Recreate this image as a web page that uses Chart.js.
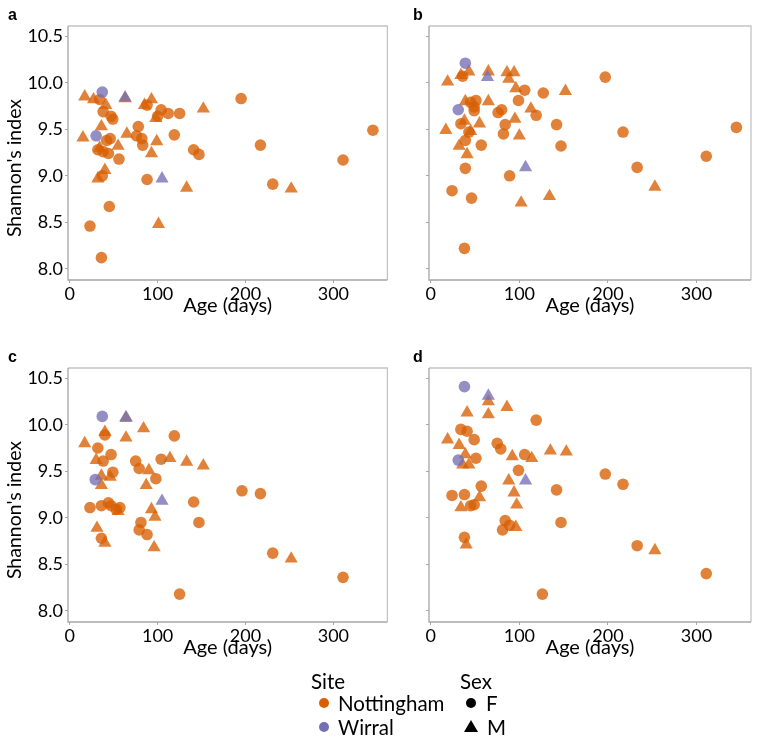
<!DOCTYPE html>
<html><head><meta charset="utf-8">
<script src="https://cdn.jsdelivr.net/npm/chart.js@4/dist/chart.umd.min.js"></script>
<style>
body{margin:0;background:#fff;width:764px;height:740px;position:relative;overflow:hidden;font-family:Lato,"Open Sans",sans-serif;color:#000}
canvas{position:absolute}
.letter{position:absolute;font:bold 16px "Liberation Sans",Arial,sans-serif;line-height:16px}
.ytitle{position:absolute;width:200px;height:24px;line-height:24px;text-align:center;font-size:19.5px;transform:rotate(-90deg);transform-origin:50% 50%}
.lg{position:absolute;font-size:20.5px;line-height:24px;white-space:nowrap}
.dot{position:absolute;width:10px;height:10px;border-radius:50%}
</style></head>
<body>
<canvas id="ca" width="395" height="330" style="left:0;top:0"></canvas>
<canvas id="cb" width="369" height="330" style="left:395px;top:0"></canvas>
<canvas id="cc" width="395" height="330" style="left:0;top:342px"></canvas>
<canvas id="cd" width="369" height="330" style="left:395px;top:342px"></canvas>

<div class="letter" style="left:8px;top:7px">a</div>
<div class="letter" style="left:413px;top:7px">b</div>
<div class="letter" style="left:8px;top:349px">c</div>
<div class="letter" style="left:413px;top:349px">d</div>

<div class="ytitle" style="left:-86px;top:156px">Shannon's index</div>
<div class="ytitle" style="left:-86px;top:498px">Shannon's index</div>

<div class="lg" style="left:311px;top:669px">Site</div>
<div class="dot" style="left:319px;top:698px;background:#D95F02"></div>
<div class="lg" style="left:338px;top:691px">Nottingham</div>
<div class="dot" style="left:319px;top:722px;background:#7570B3"></div>
<div class="lg" style="left:338px;top:715px">Wirral</div>
<div class="lg" style="left:460px;top:669px">Sex</div>
<div class="dot" style="left:466px;top:698px;background:#000"></div>
<div class="lg" style="left:486px;top:691px">F</div>
<svg style="position:absolute;left:464px;top:720px" width="14" height="13"><polygon points="7,0 14,12 0,12" fill="#000"/></svg>
<div class="lg" style="left:487px;top:715px">M</div>

<script>
// ---- axis ticks ----
const xTicks = [0, 100, 200, 300];
const yTicks = [8.0, 8.5, 9.0, 9.5, 10.0, 10.5];
const xRange = [-2, 361.5];
const yRange = [7.88, 10.61];

// ---- panel a : [age (days), Shannon's index] ----
const a_NottinghamF = [[34,9.82],[38,9.69],[47,9.64],[49,9.61],[88,9.76],[104,9.71],[112,9.67],[100,9.64],[125,9.67],[195,9.83],[46,9.40],[42,9.38],[78,9.53],[76,9.43],[82,9.40],[83,9.33],[119,9.44],[141,9.28],[147,9.23],[32,9.28],[38,9.26],[44,9.24],[56,9.18],[37,9.00],[88,8.96],[45,8.67],[23,8.46],[36,8.12],[217,9.33],[231,8.91],[311,9.17],[345,9.49]];
const a_NottinghamM = [[17,9.85],[27,9.82],[41,9.76],[63,9.83],[85,9.76],[93,9.82],[98,9.62],[152,9.72],[36,9.53],[15,9.41],[55,9.32],[65,9.45],[99,9.37],[93,9.24],[34,9.30],[40,9.06],[32,8.97],[133,8.87],[101,8.48],[252,8.86]];
const a_WirralF = [[37,9.90],[30,9.43]];
const a_WirralM = [[63,9.84],[105,8.97]];

// ---- panel b ----
const b_NottinghamF = [[36,10.07],[106,9.92],[99,9.81],[127,9.89],[197,10.06],[45,9.79],[49,9.74],[51,9.81],[49,9.70],[76,9.68],[80,9.71],[119,9.65],[84,9.55],[82,9.45],[142,9.55],[147,9.32],[34,9.56],[43,9.47],[57,9.33],[39,9.38],[39,9.08],[89,9.00],[24,8.84],[46,8.76],[38,8.22],[217,9.47],[233,9.09],[311,9.21],[345,9.52]];
const b_NottinghamM = [[19,10.01],[34,10.08],[43,10.12],[65,10.12],[86,10.11],[94,10.11],[88,10.04],[96,9.94],[152,9.91],[39,9.80],[65,9.80],[113,9.72],[95,9.61],[100,9.43],[17,9.49],[38,9.59],[45,9.48],[55,9.56],[32,9.32],[41,9.23],[102,8.71],[134,8.78],[253,8.88]];
const b_WirralF = [[39,10.21],[31,9.71]];
const b_WirralM = [[64,10.06],[107,9.09]];

// ---- panel c ----
const c_NottinghamF = [[119,9.88],[40,9.89],[32,9.75],[38,9.61],[47,9.68],[75,9.61],[79,9.53],[104,9.63],[98,9.42],[49,9.49],[23,9.11],[36,9.13],[44,9.16],[47,9.13],[53,9.09],[57,9.11],[81,8.95],[79,8.87],[88,8.82],[36,8.78],[125,8.18],[196,9.29],[217,9.26],[141,9.17],[147,8.95],[231,8.62],[311,8.36]];
const c_NottinghamM = [[64,10.07],[84,9.96],[40,9.92],[64,9.86],[17,9.80],[30,9.62],[114,9.64],[133,9.60],[152,9.56],[90,9.51],[87,9.35],[36,9.45],[36,9.35],[46,9.44],[55,9.07],[93,9.09],[97,9.01],[31,8.89],[40,8.73],[96,8.68],[252,8.56]];
const c_WirralF = [[37,10.09],[29,9.41]];
const c_WirralM = [[64,10.08],[105,9.18]];

// ---- panel d ----
const d_NottinghamF = [[119,10.05],[34,9.95],[41,9.93],[49,9.84],[51,9.64],[75,9.80],[79,9.74],[106,9.68],[99,9.51],[57,9.34],[142,9.30],[24,9.24],[38,9.25],[45,9.13],[49,9.14],[84,8.97],[81,8.87],[89,8.92],[147,8.95],[38,8.79],[126,8.18],[197,9.47],[217,9.36],[233,8.70],[311,8.40]];
const d_NottinghamM = [[65,10.25],[41,10.13],[65,10.11],[86,10.19],[19,9.84],[32,9.78],[39,9.68],[36,9.57],[43,9.57],[92,9.66],[114,9.64],[135,9.72],[153,9.71],[88,9.40],[94,9.27],[55,9.22],[97,9.14],[34,9.11],[96,8.90],[40,8.71],[253,8.65]];
const d_WirralF = [[38,10.41],[31,9.62]];
const d_WirralM = [[65,10.31],[107,9.40]];

const siteColor = {Nottingham: 'rgba(217,95,2,0.78)', Wirral: 'rgba(117,112,179,0.78)'};

function ds(pairs, site, shape) {
  return {
    label: site + ' ' + shape,
    data: pairs.map(p => ({x: p[0], y: p[1]})),
    pointStyle: shape,
    pointRadius: shape === 'triangle' ? 7.6 : 5.8,
    pointBackgroundColor: siteColor[site],
    pointBorderWidth: 0,
    pointBorderColor: 'rgba(0,0,0,0)',
    showLine: false
  };
}

const boxPlugin = {
  id: 'box',
  beforeDatasetsDraw(c) {
    const a = c.chartArea, ctx = c.ctx;
    ctx.save();
    ctx.lineWidth = 1.3;
    ctx.strokeStyle = '#c4c4c4';
    ctx.beginPath();
    ctx.moveTo(a.left, a.top); ctx.lineTo(a.right, a.top); ctx.lineTo(a.right, a.bottom);
    ctx.stroke();
    ctx.strokeStyle = '#a6a6a6';
    ctx.beginPath();
    ctx.moveTo(a.left, a.top); ctx.lineTo(a.left, a.bottom); ctx.lineTo(a.right, a.bottom);
    ctx.stroke();
    ctx.restore();
  }
};

function panel(id, nF, nM, wF, wM, showY, yw, padRight) {
  new Chart(document.getElementById(id), {
    type: 'scatter',
    data: {datasets: [ds(wF, 'Wirral', 'circle'), ds(wM, 'Wirral', 'triangle'), ds(nF, 'Nottingham', 'circle'), ds(nM, 'Nottingham', 'triangle')]},
    options: {
      responsive: false, animation: false, devicePixelRatio: 1,
      layout: {padding: {top: 26, right: padRight, left: 0, bottom: 0}},
      plugins: {legend: {display: false}, tooltip: {enabled: false}},
      scales: {
        x: {
          type: 'linear', min: xRange[0], max: xRange[1],
          afterBuildTicks: s => { s.ticks = xTicks.map(v => ({value: v})); },
          afterFit: s => { s.height = 50; },
          grid: {drawOnChartArea: false, drawTicks: true, tickLength: 3, color: '#a6a6a6'},
          border: {display: false},
          ticks: {font: {family: 'Lato', size: 18}, color: '#000', padding: 0, maxRotation: 0, autoSkip: false},
          title: {display: true, text: 'Age (days)', font: {family: 'Lato', size: 20}, color: '#000', padding: {top: 0, bottom: 12}}
        },
        y: {
          type: 'linear', min: yRange[0], max: yRange[1],
          afterBuildTicks: s => { s.ticks = yTicks.map(v => ({value: v})); },
          afterFit: s => { s.width = yw; },
          grid: {drawOnChartArea: false, drawTicks: true, tickLength: 3, color: '#a6a6a6'},
          border: {display: false},
          ticks: {font: {family: 'Lato', size: 18}, color: '#000', padding: 2, autoSkip: false,
                  callback: v => showY ? Number(v).toFixed(1) : ''}
        }
      }
    },
    plugins: [boxPlugin]
  });
}

panel('ca', a_NottinghamF, a_NottinghamM, a_WirralF, a_WirralM, true, 68, 7);
panel('cb', b_NottinghamF, b_NottinghamM, b_WirralF, b_WirralM, false, 34, 13);
panel('cc', c_NottinghamF, c_NottinghamM, c_WirralF, c_WirralM, true, 68, 7);
panel('cd', d_NottinghamF, d_NottinghamM, d_WirralF, d_WirralM, false, 34, 13);
</script>
</body></html>
